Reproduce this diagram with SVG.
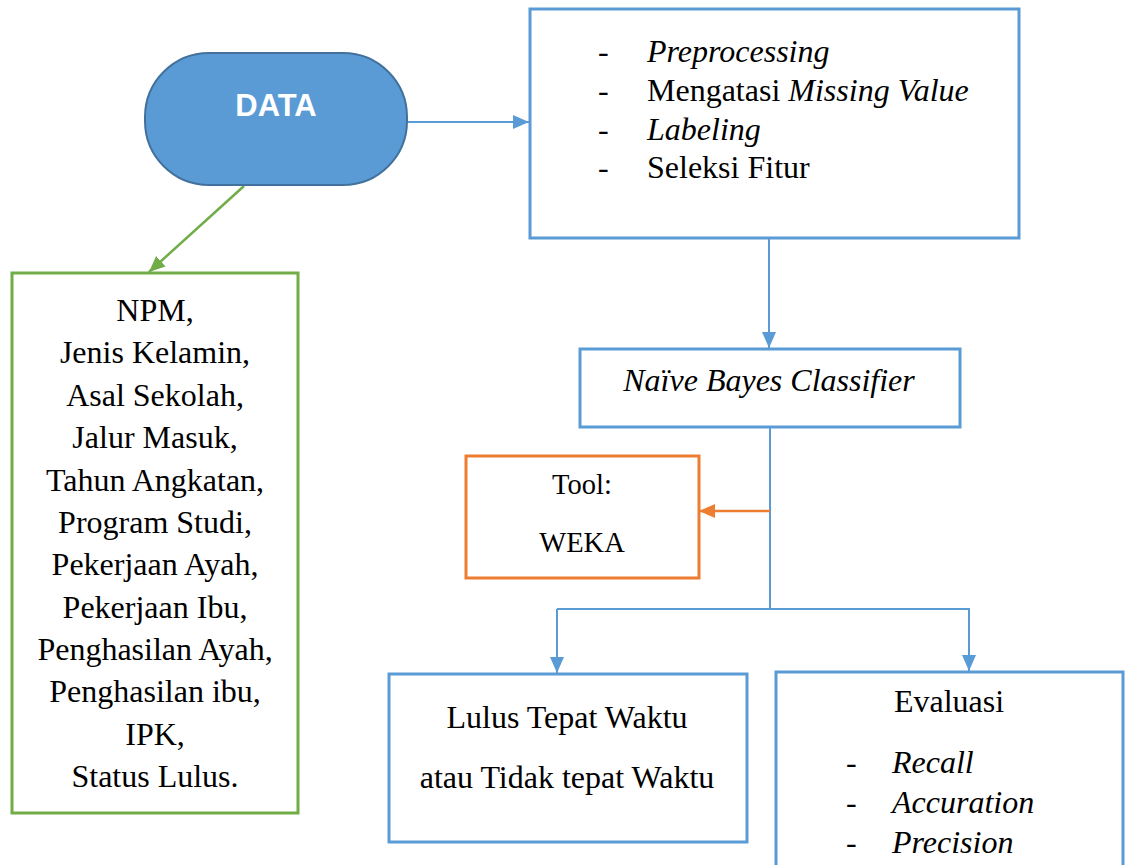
<svg xmlns="http://www.w3.org/2000/svg" width="1125" height="865" viewBox="0 0 1125 865">
  <style>
    .box-blue { fill: #ffffff; stroke: #5b9bd5; stroke-width: 3; }
    .box-green { fill: #ffffff; stroke: #70ad47; stroke-width: 3; }
    .box-orange { fill: #ffffff; stroke: #ed7d31; stroke-width: 3; }
    .pill { fill: #5b9bd5; stroke: #41719c; stroke-width: 2; }
    .txt { font-family: "Liberation Serif", "Times New Roman", serif; font-size: 32px; fill: #000000; }
    .it { font-style: italic; }
    .mid { text-anchor: middle; }
    .data-label { font-family: "Liberation Sans", Arial, sans-serif; font-weight: bold; font-size: 31px; fill: #ffffff; text-anchor: middle; }
    .link-blue { fill: none; stroke: #5b9bd5; stroke-width: 2; }
    .link-green { fill: none; stroke: #70ad47; stroke-width: 2.5; }
    .link-orange { fill: none; stroke: #ed7d31; stroke-width: 2.5; }
  </style>
  <defs>
    <marker id="head-blue" markerUnits="userSpaceOnUse" markerWidth="18" markerHeight="16" refX="16" refY="8" orient="auto">
      <path d="M0,1 L16,8 L0,15 Z" fill="#5b9bd5"/>
    </marker>
    <marker id="head-green" markerUnits="userSpaceOnUse" markerWidth="18" markerHeight="16" refX="16" refY="8" orient="auto">
      <path d="M0,1 L16,8 L0,15 Z" fill="#70ad47"/>
    </marker>
    <marker id="head-orange" markerUnits="userSpaceOnUse" markerWidth="18" markerHeight="16" refX="16" refY="8" orient="auto">
      <path d="M0,1 L16,8 L0,15 Z" fill="#ed7d31"/>
    </marker>
  </defs>

  <rect width="1125" height="865" fill="#ffffff"/>

  <!-- connectors -->
  <g id="connectors">
    <line class="link-blue" x1="407" y1="122" x2="529" y2="122" marker-end="url(#head-blue)"/>
    <line class="link-green" x1="244" y1="186" x2="149" y2="272" marker-end="url(#head-green)"/>
    <line class="link-blue" x1="769" y1="238" x2="769" y2="348" marker-end="url(#head-blue)"/>
    <line class="link-blue" x1="770" y1="427" x2="770" y2="609"/>
    <line class="link-orange" x1="770" y1="511" x2="699" y2="511" marker-end="url(#head-orange)"/>
    <polyline class="link-blue" points="557,609 969,609 969,671" marker-end="url(#head-blue)"/>
    <line class="link-blue" x1="557" y1="609" x2="557" y2="673" marker-end="url(#head-blue)"/>
  </g>

  <!-- data source -->
  <g id="node-data">
    <rect class="pill" x="145" y="53" width="262" height="132" rx="64" ry="64"/>
    <text class="data-label" x="276" y="116">DATA</text>
  </g>

  <!-- preprocessing steps -->
  <g id="node-preprocessing">
    <rect class="box-blue" x="530" y="9" width="489" height="229"/>
    <text class="txt" x="598" y="62">-</text>
    <text class="txt it" x="647" y="62">Preprocessing</text>
    <text class="txt" x="598" y="101">-</text>
    <text class="txt" x="647" y="101">Mengatasi <tspan class="it">Missing Value</tspan></text>
    <text class="txt" x="598" y="140">-</text>
    <text class="txt it" x="647" y="140">Labeling</text>
    <text class="txt" x="598" y="178">-</text>
    <text class="txt" x="647" y="178">Seleksi Fitur</text>
  </g>

  <!-- attribute list -->
  <g id="node-attributes">
    <rect class="box-green" x="12" y="273" width="286" height="540"/>
    <text class="txt mid" x="155" y="321">NPM,</text>
    <text class="txt mid" x="155" y="363">Jenis Kelamin,</text>
    <text class="txt mid" x="155" y="406">Asal Sekolah,</text>
    <text class="txt mid" x="155" y="448">Jalur Masuk,</text>
    <text class="txt mid" x="155" y="491">Tahun Angkatan,</text>
    <text class="txt mid" x="155" y="533">Program Studi,</text>
    <text class="txt mid" x="155" y="575">Pekerjaan Ayah,</text>
    <text class="txt mid" x="155" y="618">Pekerjaan Ibu,</text>
    <text class="txt mid" x="155" y="660">Penghasilan Ayah,</text>
    <text class="txt mid" x="155" y="702">Penghasilan ibu,</text>
    <text class="txt mid" x="155" y="745">IPK,</text>
    <text class="txt mid" x="155" y="787">Status Lulus.</text>
  </g>

  <!-- classifier -->
  <g id="node-classifier">
    <rect class="box-blue" x="580" y="349" width="380" height="78"/>
    <text class="txt it mid" x="769" y="391">Naïve Bayes Classifier</text>
  </g>

  <!-- tool -->
  <g id="node-tool">
    <rect class="box-orange" x="466" y="456" width="233" height="122"/>
    <text class="txt mid" x="582" y="494" style="font-size:28.5px">Tool:</text>
    <text class="txt mid" x="582" y="552" style="font-size:28.5px">WEKA</text>
  </g>

  <!-- result -->
  <g id="node-result">
    <rect class="box-blue" x="389" y="674" width="358" height="168"/>
    <text class="txt mid" x="567" y="728">Lulus Tepat Waktu</text>
    <text class="txt mid" x="567" y="788">atau Tidak tepat Waktu</text>
  </g>

  <!-- evaluation -->
  <g id="node-evaluation">
    <rect class="box-blue" x="776" y="672" width="347" height="220"/>
    <text class="txt mid" x="949" y="712">Evaluasi</text>
    <text class="txt" x="846" y="773">-</text>
    <text class="txt it" x="892" y="773">Recall</text>
    <text class="txt" x="846" y="813">-</text>
    <text class="txt it" x="892" y="813">Accuration</text>
    <text class="txt" x="846" y="853">-</text>
    <text class="txt it" x="892" y="853">Precision</text>
  </g>
</svg>
